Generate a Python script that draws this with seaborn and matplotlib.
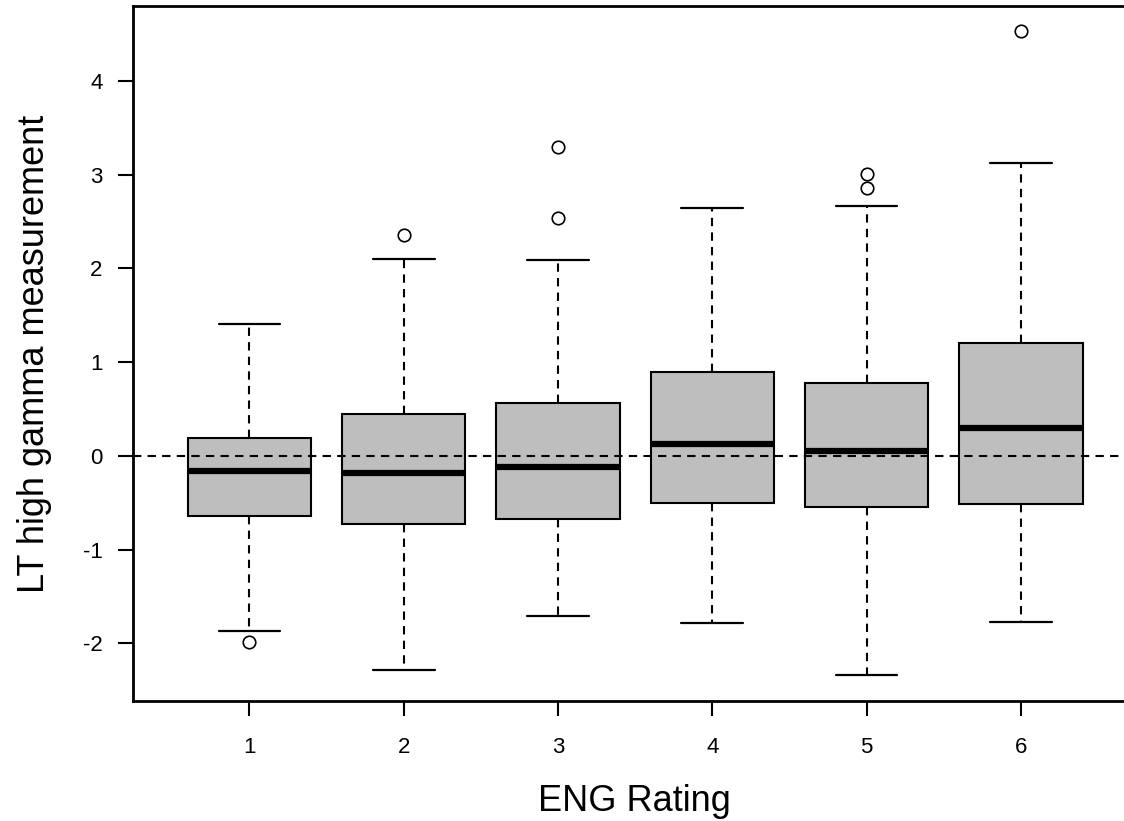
import matplotlib.pyplot as plt
import seaborn as sns
import pandas as pd

ratings = ['1', '2', '3', '4', '5', '6']
q1 = [-0.64, -0.73, -0.67, -0.50, -0.54, -0.51]
medians = [-0.16, -0.18, -0.12, 0.13, 0.05, 0.30]
q3 = [0.19, 0.45, 0.57, 0.90, 0.78, 1.21]
whisker_low = [-1.87, -2.28, -1.71, -1.78, -2.34, -1.77]
whisker_high = [1.41, 2.10, 2.09, 2.65, 2.67, 3.12]
outliers = [[-1.99], [2.36], [2.54, 3.30], [], [2.86, 3.01], [4.53]]

# 13 points per group: quartiles land exactly on sorted index 3, 6, 9
rows = []
for r, a, m, b, lo, hi, out in zip(ratings, q1, medians, q3,
                                   whisker_low, whisker_high, outliers):
    low = [o for o in out if o < a] + [lo]
    low = [lo] * (3 - len(low)) + low
    high = [hi] + [o for o in out if o > b]
    high = high + [hi] * (3 - len(high))
    for v in sorted(low) + [a, a, a, m, m, m, b] + sorted(high):
        rows.append({'ENG Rating': r, 'value': v})
df = pd.DataFrame(rows)

sns.set_style("ticks")
plt.rcParams['font.family'] = ['Liberation Sans', 'DejaVu Sans']
plt.rcParams['text.color'] = 'black'
plt.rcParams['axes.labelcolor'] = 'black'
plt.rcParams['xtick.color'] = 'black'
plt.rcParams['ytick.color'] = 'black'
plt.rcParams['axes.unicode_minus'] = False

fig = plt.figure(figsize=(11.24, 8.21), dpi=100)
ax = fig.add_axes([0.1183, 0.1462, 0.8915, 0.8465])

dash = (0, (4, 3))
sns.boxplot(data=df, x='ENG Rating', y='value', order=ratings, ax=ax,
            color='#bebebe', saturation=1, linecolor='black', linewidth=1.5,
            width=0.8,
            whiskerprops=dict(linestyle=dash, linewidth=1.5),
            capprops=dict(linewidth=1.6),
            medianprops=dict(linewidth=4.5, color='black'),
            flierprops=dict(marker='o', markersize=9, markerfacecolor='white',
                            markeredgecolor='black', markeredgewidth=1.2))

ax.axhline(0, color='black', linestyle=dash, linewidth=1.5, zorder=5)

ax.set_xlim(-0.755, 5.74)
ax.set_ylim(-2.614, 4.80)
ax.set_yticks([-2, -1, 0, 1, 2, 3, 4])
for s in ax.spines.values():
    s.set_visible(True)
    s.set_linewidth(2)
    s.set_color('black')
ax.tick_params(axis='both', length=11, width=1.5, labelsize=16,
               color='black', labelcolor='black')
ax.tick_params(axis='x', pad=15)
ax.tick_params(axis='y', pad=11)

ax.set_xlabel('ENG Rating', fontsize=26, labelpad=19)
ax.set_ylabel('LT high gamma measurement', fontsize=26, labelpad=22)

fig.savefig('out.png', dpi=100)
